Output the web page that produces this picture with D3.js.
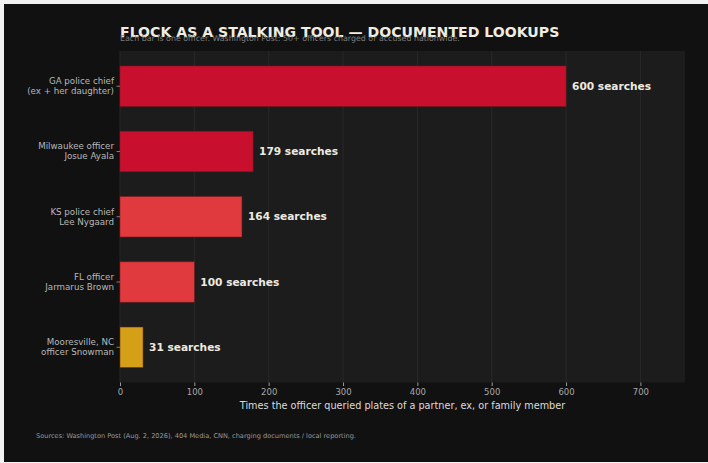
<!DOCTYPE html>
<html>
<head>
<meta charset="utf-8">
<script src="https://cdn.jsdelivr.net/npm/d3@7"></script>
<style>
  html, body { margin: 0; padding: 0; background: #f2f2f2; }
  svg { display: block; font-family: "DejaVu Sans", sans-serif; }
</style>
</head>
<body>
<div id="chart"></div>
<script>
// officers, top to bottom
const officers = [
    ["GA police chief", "(ex + her daughter)"],
    ["Milwaukee officer", "Josue Ayala"],
    ["KS police chief", "Lee Nygaard"],
    ["FL officer", "Jarmarus Brown"],
    ["Mooresville, NC", "officer Snowman"]
];
const searches = [600, 179, 164, 100, 31];
const barColors = ["#c8102e", "#c8102e", "#e03a3e", "#e03a3e", "#d4a017"];
const xTicks = [0, 100, 200, 300, 400, 500, 600, 700];

const width = 708, height = 463;
const plot = {left: 120, right: 685, top: 51, bottom: 382.5};

const svg = d3.select("#chart").append("svg")
    .attr("width", width)
    .attr("height", height);

// dark figure background with thin light frame
svg.append("rect")
    .attr("x", 4).attr("y", 4)
    .attr("width", width - 4).attr("height", height - 5)
    .attr("fill", "#111111");

svg.append("rect")
    .attr("x", plot.left).attr("y", plot.top)
    .attr("width", plot.right - plot.left)
    .attr("height", plot.bottom - plot.top)
    .attr("fill", "#1c1c1c");

const x = d3.scaleLinear().domain([0, 760]).range([plot.left, plot.right]);
const y = d3.scaleBand()
    .domain(d3.range(officers.length))
    .range([plot.top, plot.bottom])
    .paddingInner(0.38)
    .paddingOuter(0.23);

// grid
svg.append("g").selectAll("line")
    .data(xTicks)
    .enter().append("line")
    .attr("x1", d => x(d)).attr("x2", d => x(d))
    .attr("y1", plot.top).attr("y2", plot.bottom)
    .attr("stroke", "#2c2c2c")
    .attr("stroke-width", 0.8);

// bars
svg.append("g").selectAll("rect")
    .data(searches)
    .enter().append("rect")
    .attr("x", x(0))
    .attr("y", (d, i) => y(i))
    .attr("width", d => x(d) - x(0))
    .attr("height", y.bandwidth())
    .attr("fill", (d, i) => barColors[i])
    .attr("stroke", "#7a1a1a")
    .attr("stroke-opacity", 0.6)
    .attr("stroke-width", 0.8);

// value labels
svg.append("g").selectAll("text")
    .data(searches)
    .enter().append("text")
    .attr("x", d => x(d) + 6)
    .attr("y", (d, i) => y(i) + y.bandwidth() / 2)
    .attr("dy", "0.35em")
    .attr("fill", "#eeeae0")
    .attr("font-size", "10.6px")
    .attr("font-weight", "bold")
    .text(d => d + " searches");

// y axis labels + ticks
const yl = svg.append("g").selectAll("g")
    .data(officers)
    .enter().append("g")
    .attr("transform", (d, i) => `translate(${plot.left}, ${y(i) + y.bandwidth() / 2})`);

yl.append("line")
    .attr("x1", -3.5).attr("x2", 0)
    .attr("stroke", "#999").attr("stroke-width", 0.8);

yl.append("text")
    .attr("x", -6)
    .attr("text-anchor", "end")
    .attr("fill", "#b8b8b8")
    .attr("font-size", "8.7px")
    .selectAll("tspan")
    .data(d => d)
    .enter().append("tspan")
    .attr("x", -6)
    .attr("y", (d, i) => i === 0 ? -2 : 8)
    .text(d => d);

// x axis
const xAxis = svg.append("g")
    .attr("transform", `translate(0, ${plot.bottom})`)
    .call(d3.axisBottom(x).tickValues(xTicks).tickSize(3.5).tickPadding(3));
xAxis.select(".domain").remove();
xAxis.selectAll("line").attr("stroke", "#999");
xAxis.selectAll("text")
    .attr("fill", "#a8a8a8")
    .attr("font-size", "8.5px")
    .attr("font-family", "DejaVu Sans, sans-serif");

svg.append("text")
    .attr("x", (plot.left + plot.right) / 2)
    .attr("y", 409)
    .attr("text-anchor", "middle")
    .attr("fill", "#dcdcdc")
    .attr("font-size", "9.7px")
    .text("Times the officer queried plates of a partner, ex, or family member");

// titles
svg.append("text")
    .attr("x", 120).attr("y", 37)
    .attr("fill", "#f0ece0")
    .attr("font-size", "14.1px")
    .attr("font-weight", "bold")
    .text("FLOCK AS A STALKING TOOL \u2014 DOCUMENTED LOOKUPS");

svg.append("text")
    .attr("x", 120).attr("y", 41)
    .attr("fill", "#7e7e7e")
    .attr("font-size", "7.9px")
    .text("Each bar is one officer. Washington Post: 50+ officers charged or accused nationwide.");

svg.append("text")
    .attr("x", 36).attr("y", 438)
    .attr("fill", "#9a9a9a")
    .attr("font-size", "6.6px")
    .text("Sources: Washington Post (Aug. 2, 2026), 404 Media, CNN, charging documents / local reporting.");
</script>
</body>
</html>
